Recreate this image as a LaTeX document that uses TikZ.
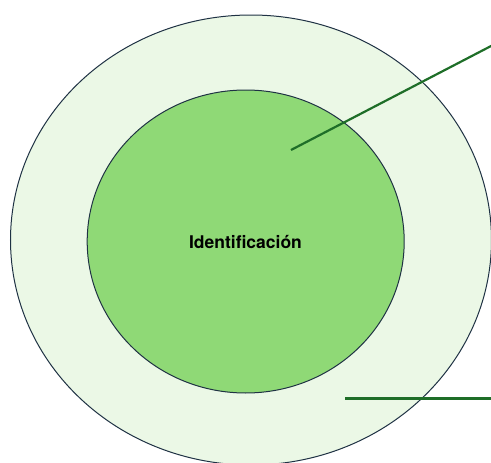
\documentclass[tikz,border=0pt]{standalone}
\usepackage{fontspec}
\setmainfont{TeX Gyre Heros}
\usetikzlibrary{shapes.geometric}
\definecolor{ringfill}{RGB}{235,248,230}
\definecolor{corefill}{RGB}{143,217,118}
\definecolor{edgecol}{RGB}{31,50,68}
\definecolor{leadcol}{RGB}{30,110,40}
\tikzset{
  ringstyle/.style={ellipse, draw=edgecol, line width=1pt, inner sep=0pt},
  leadline/.style={draw=leadcol, line width=2.2pt},
  labeltext/.style={font=\bfseries\fontsize{17.5}{20}\selectfont, text=black}
}
\begin{document}
\begin{tikzpicture}[x=1pt,y=-1pt]
\useasboundingbox (0,0) rectangle (491,463);
\node[ringstyle, fill=ringfill, minimum width=481pt, minimum height=450pt] (outer) at (251,240) {};
\node[ringstyle, fill=corefill, minimum width=317pt, minimum height=303pt] (inner) at (245.7,241.5) {};
\node[labeltext] (lab) at (245.5,242) {Identificación};
\coordinate (a1) at (291,150);
\coordinate (a2) at (493,45);
\coordinate (b1) at (345,398.5);
\coordinate (b2) at (493,398.5);
\draw[leadline] (a1) -- (a2);
\draw[leadline] (b1) -- (b2);
\end{tikzpicture}
\end{document}
